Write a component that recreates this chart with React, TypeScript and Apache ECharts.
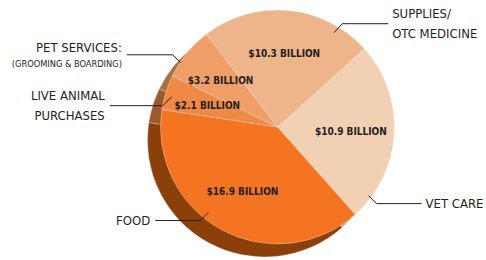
import React, { useEffect, useRef } from "react";
import * as echarts from "echarts";

// ---- data ----
const categories = ["VET CARE", "FOOD", "LIVE ANIMAL PURCHASES", "PET SERVICES", "SUPPLIES/OTC MEDICINE"];
const values = [10.9, 16.9, 2.1, 3.2, 10.3]; // billions of dollars
const outerLabels = [
  "VET CARE",
  "FOOD",
  "LIVE ANIMAL\nPURCHASES",
  "{a|PET SERVICES:}\n{b|(GROOMING & BOARDING)}",
  "SUPPLIES/\nOTC MEDICINE",
];

// ---- styles / layout ----
const topColors = ["#F2D0B3", "#F47421", "#EE8A46", "#EF9E68", "#EEB48A"];
const sideColors = ["#C9A081", "#8B4009", "#9A5A2B", "#A8703F", "#B98A66"];
const CX = 277.5;
const CY = 127;
const R = 117;
const DEPTH_X = -13;
const DEPTH_Y = 13;
const START_ANGLE = 42;
const FONT = "'Liberation Sans Narrow', 'DejaVu Sans Condensed', 'Open Sans', sans-serif";
const INK = "#231F20";

// leader-line anchors: angle (deg) & radius inside slice, elbow offset, horizontal run, side
const leaders = [
  { angle: -37, r: 114, ex: 8, ey: 8, len: 45, side: 1 },
  { angle: 231, r: 110, ex: -8, ey: 8, len: 45, side: -1 },
  { angle: 164, r: 110, ex: -9, ey: 9, len: 53, side: -1 },
  { angle: 146.4, r: 116, ex: -8, ey: -8, len: 46, side: -1 },
  { angle: 59, r: 110, ex: 8, ey: -9, len: 46, side: 1 },
];

export default function App() {
  const ref = useRef<HTMLDivElement>(null);
  useEffect(() => {
    if (!ref.current) return;
    const chart = echarts.init(ref.current, undefined, { renderer: "svg" });
    const data = categories.map((name, i) => ({ name, value: values[i] }));
    chart.setOption({
      animation: false,
      backgroundColor: "#ffffff",
      series: [
        {
          type: "pie",
          name: "depth",
          silent: true,
          z: 1,
          center: [CX + DEPTH_X, CY + DEPTH_Y],
          radius: [0, R],
          startAngle: START_ANGLE,
          clockwise: true,
          label: { show: false },
          labelLine: { show: false },
          itemStyle: {
            color: (p: any) => sideColors[p.dataIndex],
            borderColor: "rgba(255,255,255,0.35)",
            borderWidth: 0.7,
          },
          data,
        },
        {
          type: "pie",
          name: "top",
          silent: true,
          z: 2,
          center: [CX, CY],
          radius: [0, R],
          startAngle: START_ANGLE,
          clockwise: true,
          label: { show: false },
          labelLine: { show: false },
          itemStyle: {
            color: (p: any) => topColors[p.dataIndex],
            borderColor: "rgba(255,255,255,0.55)",
            borderWidth: 0.6,
          },
          data,
        },
        {
          type: "pie",
          name: "values",
          silent: true,
          z: 3,
          center: [CX, CY],
          radius: [24, R],
          startAngle: START_ANGLE,
          clockwise: true,
          avoidLabelOverlap: false,
          itemStyle: { color: "rgba(0,0,0,0)" },
          label: {
            show: true,
            position: "inside",
            formatter: (p: any) => `$${p.value} BILLION`,
            color: INK,
            fontFamily: FONT,
            fontWeight: "bold",
            fontSize: 10,
          },
          labelLine: { show: false },
          data,
        },
        {
          type: "pie",
          name: "names",
          silent: true,
          z: 4,
          center: [CX, CY],
          radius: [0, R],
          startAngle: START_ANGLE,
          clockwise: true,
          avoidLabelOverlap: false,
          itemStyle: { color: "rgba(0,0,0,0)" },
          label: {
            show: true,
            position: "outside",
            formatter: (p: any) => outerLabels[p.dataIndex],
            color: INK,
            fontFamily: FONT,
            fontSize: 13,
            lineHeight: 20,
            rich: {
              a: { fontFamily: FONT, fontSize: 13, lineHeight: 17, color: INK },
              b: { fontFamily: FONT, fontSize: 9.2, lineHeight: 14, color: INK },
            },
          },
          labelLine: { show: true, lineStyle: { color: INK, width: 1 } },
          labelLayout: (params: any) => {
            const L = leaders[params.dataIndex];
            const a = (L.angle * Math.PI) / 180;
            const sx = CX + L.r * Math.cos(a);
            const sy = CY - L.r * Math.sin(a);
            const mx = sx + L.ex;
            const my = sy + L.ey;
            const exx = mx + L.side * L.len;
            return {
              x: exx + (L.side > 0 ? 4 : -5),
              y: my,
              align: L.side > 0 ? "left" : "right",
              verticalAlign: "middle",
              labelLinePoints: [
                [sx, sy],
                [mx, my],
                [exx, my],
              ],
            };
          },
          data,
        },
      ],
    });
    return () => chart.dispose();
  }, []);
  return (
    <div
      ref={ref}
      style={{ position: "fixed", left: 0, top: 0, width: 486, height: 260, background: "#fff" }}
    />
  );
}
